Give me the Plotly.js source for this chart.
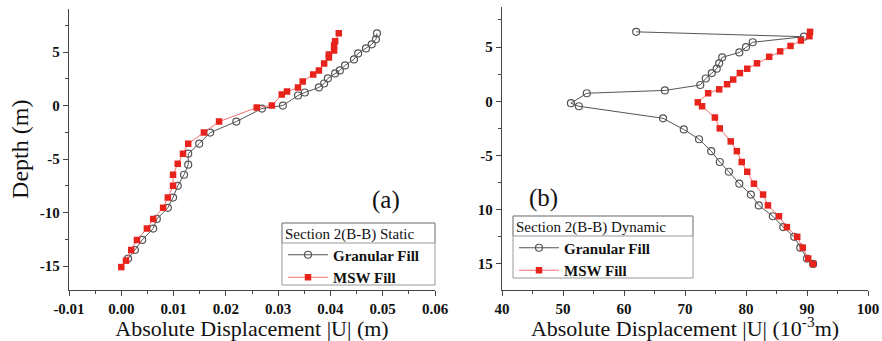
<!DOCTYPE html>
<html>
<head>
<meta charset="utf-8">
<script src="https://cdn.plot.ly/plotly-3.0.1.min.js"></script>
<style>html,body{margin:0;padding:0;background:#fff;}#chart{width:882px;height:341px;}</style>
</head>
<body>
<div id="chart"></div>
<script>
// ---- Data: panel (a) static ----
const granDepthA = [6.75, 6.19, 5.72, 5.34, 4.87, 4.31, 3.75, 3.28, 3.0, 2.53, 2.06, 1.69, 1.22, 0.94, 0.0, -0.28, -1.5, -2.53, -3.56, -4.5, -5.53, -6.47, -7.5, -8.6, -9.56, -10.6, -11.5, -12.56, -13.5, -14.3];
const granDispA  = [0.0489, 0.0487, 0.0479, 0.0468, 0.0453, 0.0445, 0.0428, 0.0418, 0.0409, 0.0395, 0.0388, 0.0378, 0.0351, 0.0338, 0.0309, 0.0269, 0.0220, 0.0170, 0.0149, 0.0128, 0.0128, 0.0120, 0.0108, 0.0099, 0.0089, 0.0068, 0.0061, 0.0040, 0.0026, 0.0013];
const mswDepthA  = [6.75, 6.0, 5.62, 5.15, 4.78, 4.5, 3.94, 3.28, 2.9, 2.25, 1.69, 1.31, 1.03, 0.0, -0.19, -1.5, -2.53, -3.56, -4.5, -5.44, -6.47, -7.5, -8.6, -9.56, -10.6, -11.5, -12.56, -13.5, -14.5, -15.1];
const mswDispA   = [0.0416, 0.0409, 0.0407, 0.0407, 0.0397, 0.0397, 0.0388, 0.0378, 0.0367, 0.0347, 0.0338, 0.0317, 0.0307, 0.0288, 0.0259, 0.0187, 0.0158, 0.0128, 0.0118, 0.0108, 0.0099, 0.0099, 0.0089, 0.0080, 0.0061, 0.0049, 0.0030, 0.0019, 0.0009, 0.0];

// ---- Data: panel (b) dynamic (10^-3 m) ----
const granDepthB = [6.4, 5.95, 5.44, 5.0, 4.5, 4.05, 3.5, 3.0, 2.6, 2.1, 1.5, 1.0, 0.74, -0.18, -0.46, -1.57, -2.6, -3.5, -4.6, -5.6, -6.5, -7.6, -8.6, -9.6, -10.6, -11.6, -12.5, -13.5, -14.5, -15.0];
const granDispB  = [62.0, 89.5, 81.1, 80.0, 78.9, 76.1, 75.6, 75.2, 74.4, 73.4, 72.5, 66.7, 53.9, 51.3, 52.6, 66.4, 69.8, 72.3, 74.3, 75.7, 77.2, 78.9, 80.8, 82.1, 84.4, 86.1, 87.9, 88.9, 90.0, 91.0];
const mswDepthB  = [6.4, 6.0, 5.6, 5.1, 4.6, 4.1, 3.5, 3.0, 2.6, 2.0, 1.57, 1.1, 0.74, -0.1, -0.46, -1.5, -2.5, -3.7, -4.6, -5.6, -6.5, -7.6, -8.6, -9.6, -10.6, -11.6, -12.5, -13.5, -14.5, -15.0];
const mswDispB   = [90.5, 90.4, 89.0, 87.3, 85.6, 83.8, 81.8, 80.2, 79.0, 77.9, 76.9, 75.6, 73.8, 72.1, 72.8, 74.9, 75.7, 77.5, 78.5, 79.3, 80.2, 81.3, 82.8, 83.6, 85.4, 86.7, 88.4, 89.3, 90.2, 91.0];

// ---- Labels and ticks ----
const seriesNames = ['Granular Fill', 'MSW Fill'];
const legendTitles = ['Section 2(B-B) Static', 'Section 2(B-B) Dynamic'];
const xTitles = ['Absolute Displacement |U| (m)', 'Absolute Displacement |U| (10<sup>-3</sup>m)'];
const yTitle = 'Depth (m)';
const xTickValsA = [-0.01, 0.0, 0.01, 0.02, 0.03, 0.04, 0.05, 0.06];
const xTickTextA = ['-0.01', '0.00', '0.01', '0.02', '0.03', '0.04', '0.05', '0.06'];
const xTickValsB = [40, 50, 60, 70, 80, 90, 100];
const xTickTextB = ['40', '50', '60', '70', '80', '90', '100'];
const yTickValsA = [5, 0, -5, -10, -15];
const yTickTextA = ['5', '0', '-5', '-10', '-15'];
const yTickValsB = [5, 0, -5, -10, -15];
const yTickTextB = ['5', '0', '-5', '10', '15'];

// ---- Layout helpers ----
const W = 882, H = 341;
const px = x => x / W;
const py = y => 1 - y / H;
const FONT = "'Liberation Serif', 'Times New Roman', 'DejaVu Serif', serif";
const AX = '#444';
const GRAY = '#555';
const RED = '#e8231c';

function granTrace(x, y, xa, ya, lg) {
  return {x: x, y: y, xaxis: xa, yaxis: ya, type: 'scatter', mode: 'lines+markers', name: seriesNames[0], legend: lg,
    line: {color: GRAY, width: 1},
    marker: {symbol: 'circle-open', size: 7, color: GRAY, line: {width: 1.2, color: GRAY}}};
}
function mswTrace(x, y, xa, ya, lg) {
  return {x: x, y: y, xaxis: xa, yaxis: ya, type: 'scatter', mode: 'lines+markers', name: seriesNames[1], legend: lg,
    line: {color: '#f07070', width: 1},
    marker: {symbol: 'square', size: 6.5, color: RED, line: {width: 0}}};
}

const data = [
  granTrace(granDispA, granDepthA, 'x', 'y', 'legend'),
  mswTrace(mswDispA, mswDepthA, 'x', 'y', 'legend'),
  granTrace(granDispB, granDepthB, 'x2', 'y2', 'legend2'),
  mswTrace(mswDispB, mswDepthB, 'x2', 'y2', 'legend2')
];

const tickFont = () => ({family: FONT, size: 15, color: '#111', weight: 'bold'});
const xTitleFont = () => ({family: FONT, size: 22, color: '#111'});
const yTitleFont = () => ({family: FONT, size: 24, color: '#111'});

function baseAxis(extra) {
  return Object.assign({
    showgrid: false, zeroline: false, showline: true, linecolor: AX, linewidth: 1.2,
    ticks: 'outside', ticklen: 5, tickwidth: 1, tickcolor: AX, tickfont: tickFont(),
    fixedrange: true
  }, extra);
}
function mirrorAxis(extra) {
  return Object.assign({
    showgrid: false, zeroline: false, showline: true, linecolor: AX, linewidth: 1.2,
    ticks: 'inside', ticklen: 5, tickwidth: 1, tickcolor: AX, showticklabels: false, fixedrange: true
  }, extra);
}

const domXA = [px(69), px(435)], domXB = [px(502), px(868)];
const domYA = [py(290), py(8.5)], domYB = [py(290), py(7)];
const rXA = [-0.01, 0.06], rXB = [40, 100];
const rYA = [-17.24, 9.07], rYB = [-17.4, 8.69];

const legendFont = () => ({family: FONT, size: 15, color: '#111', weight: 'bold'});
const legendTitleFont = () => ({family: FONT, size: 15, color: '#111', weight: 'normal'});

const layout = {
  width: W, height: H,
  margin: {l: 0, r: 0, t: 0, b: 0},
  paper_bgcolor: '#fff', plot_bgcolor: '#fff',
  font: {family: FONT, color: '#111'},
  showlegend: true,
  xaxis: baseAxis({domain: domXA, anchor: 'y', range: rXA, tickmode: 'array', tickvals: xTickValsA, ticktext: xTickTextA,
    minor: {dtick: 0.005, tick0: 0, ticks: 'outside', ticklen: 3, tickcolor: AX},
    title: {text: xTitles[0], font: xTitleFont(), standoff: 7}}),
  yaxis: baseAxis({domain: domYA, anchor: 'x', range: rYA, tickmode: 'array', tickvals: yTickValsA, ticktext: yTickTextA,
    minor: {dtick: 2.5, tick0: 0, ticks: 'outside', ticklen: 3, tickcolor: AX},
    title: {text: yTitle, font: yTitleFont(), standoff: 4}}),
  xaxis3: mirrorAxis({overlaying: 'x', anchor: 'y', side: 'top', range: rXA, dtick: 0.01, tick0: 0,
    minor: {dtick: 0.005, ticks: 'inside', ticklen: 3, tickcolor: AX}}),
  yaxis3: mirrorAxis({overlaying: 'y', anchor: 'x', side: 'right', range: rYA, dtick: 5, tick0: 0,
    minor: {dtick: 2.5, ticks: 'inside', ticklen: 3, tickcolor: AX}}),
  xaxis2: baseAxis({domain: domXB, anchor: 'y2', range: rXB, tickmode: 'array', tickvals: xTickValsB, ticktext: xTickTextB,
    minor: {dtick: 5, tick0: 0, ticks: 'outside', ticklen: 3, tickcolor: AX},
    title: {text: xTitles[1], font: xTitleFont(), standoff: 8}}),
  yaxis2: baseAxis({domain: domYB, anchor: 'x2', range: rYB, tickmode: 'array', tickvals: yTickValsB, ticktext: yTickTextB,
    minor: {dtick: 2.5, tick0: 0, ticks: 'outside', ticklen: 3, tickcolor: AX}}),
  xaxis4: mirrorAxis({overlaying: 'x2', anchor: 'y2', side: 'top', range: rXB, dtick: 10, tick0: 0,
    minor: {dtick: 5, ticks: 'inside', ticklen: 3, tickcolor: AX}}),
  yaxis4: mirrorAxis({overlaying: 'y2', anchor: 'x2', side: 'right', range: rYB, dtick: 5, tick0: 0,
    minor: {dtick: 2.5, ticks: 'inside', ticklen: 3, tickcolor: AX}}),
  legend: {x: px(283), y: py(219), xanchor: 'left', yanchor: 'top', bgcolor: 'rgba(0,0,0,0)', borderwidth: 0,
    itemwidth: 40, tracegroupgap: 0,
    title: {text: legendTitles[0], font: legendTitleFont()},
    font: legendFont()},
  legend2: {x: px(514), y: py(212), xanchor: 'left', yanchor: 'top', bgcolor: 'rgba(0,0,0,0)', borderwidth: 0,
    itemwidth: 40, tracegroupgap: 0,
    title: {text: legendTitles[1], font: legendTitleFont()},
    font: legendFont()},
  shapes: [
    {type: 'rect', xref: 'paper', yref: 'paper', x0: px(282), x1: px(435), y0: py(285), y1: py(223), line: {color: '#999', width: 1}, fillcolor: '#fff', layer: 'above'},
    {type: 'rect', xref: 'paper', yref: 'paper', x0: px(282), x1: px(435), y0: py(243), y1: py(223), line: {color: '#999', width: 1}, fillcolor: 'rgba(0,0,0,0)', layer: 'above'},
    {type: 'rect', xref: 'paper', yref: 'paper', x0: px(513), x1: px(693), y0: py(278), y1: py(216), line: {color: '#999', width: 1}, fillcolor: '#fff', layer: 'above'},
    {type: 'rect', xref: 'paper', yref: 'paper', x0: px(513), x1: px(693), y0: py(236), y1: py(216), line: {color: '#999', width: 1}, fillcolor: 'rgba(0,0,0,0)', layer: 'above'}
  ],
  annotations: [
    {text: '(a)', xref: 'paper', yref: 'paper', x: px(386), y: py(200), xanchor: 'center', yanchor: 'middle', showarrow: false, font: {family: FONT, size: 25, color: '#111'}},
    {text: '(b)', xref: 'paper', yref: 'paper', x: px(543), y: py(198), xanchor: 'center', yanchor: 'middle', showarrow: false, font: {family: FONT, size: 25, color: '#111'}}
  ]
};

Plotly.newPlot('chart', data, layout, {displayModeBar: false, staticPlot: true});
</script>
</body>
</html>
